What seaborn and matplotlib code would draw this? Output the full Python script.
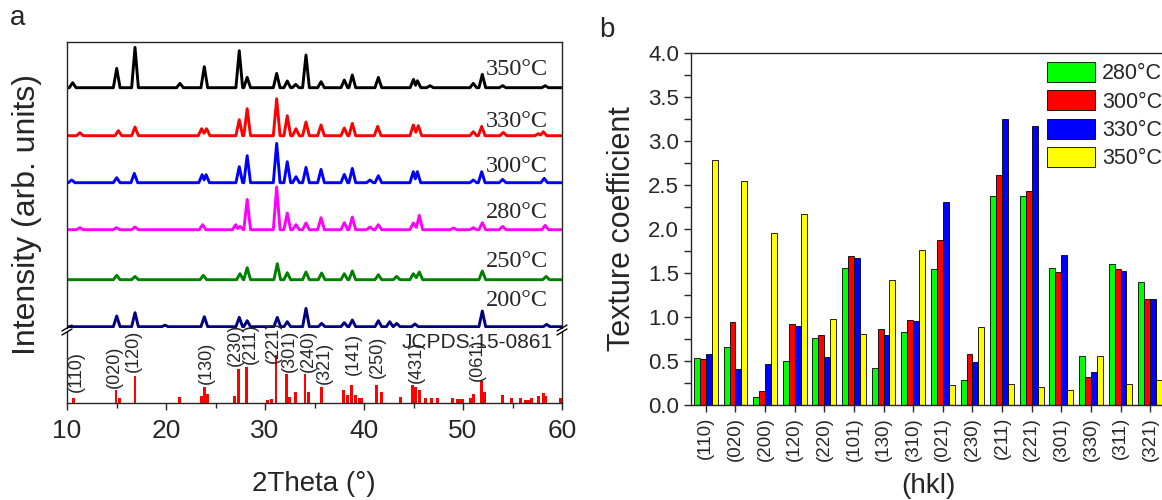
import numpy as np
import pandas as pd
import matplotlib
matplotlib.use("Agg")
import matplotlib.pyplot as plt
from matplotlib.lines import Line2D
from matplotlib.ticker import MultipleLocator
import seaborn as sns

# ---------------- data: panel a (XRD) ----------------
samples = ["200°C", "250°C", "280°C", "300°C", "330°C", "350°C"]
trace_colors = ["#000080", "#008000", "#FF00FF", "#0000FF", "#FF0000", "#000000"]

pos_200 = [15.02, 16.87, 19.9, 23.87, 27.4, 28.2, 31.24, 32.25, 34.14, 35.72, 38.01, 38.82, 41.45, 42.6, 43.3, 45.15, 51.95, 58.45]
int_200 = [10.7, 14, 1.5, 10, 9.3, 6, 9.3, 5, 18.3, 3.3, 4, 6.7, 6, 5, 3.3, 2.7, 15.7, 2.3]

pos_250 = [15.02, 16.87, 23.77, 27.47, 28.2, 31.24, 32.25, 34.14, 35.72, 38.01, 38.82, 41.45, 43.3, 44.98, 45.59, 51.95, 58.4]
int_250 = [4.3, 3.3, 4.3, 6, 12, 16, 7, 7.7, 6.7, 6, 8.7, 5, 3.3, 6, 7.7, 8.7, 3.3]

pos_280 = [11.3, 15.0, 16.87, 23.7, 27.04, 27.47, 28.2, 31.18, 32.25, 33.13, 34.14, 35.66, 38.01, 38.82, 40.6, 41.45, 44.98, 45.59, 49.03, 51.04, 51.95, 54.0, 58.3]
int_280 = [2, 2, 2.7, 5, 5, 3.3, 30.3, 42.7, 16.7, 5, 6.7, 12, 7, 12.7, 2.7, 5, 6.7, 14.3, 1.7, 2, 7, 3.3, 4.3]

pos_300 = [10.47, 15.02, 16.8, 23.65, 24.05, 27.4, 28.2, 31.18, 32.25, 33.13, 34.14, 35.66, 38.01, 38.82, 40.6, 41.45, 44.98, 45.39, 51.04, 51.89, 54.0, 58.2]
int_300 = [2.7, 5, 9.3, 8, 8, 16, 27, 39.3, 21, 6, 15.3, 13.3, 8.3, 14.3, 2.7, 7, 11, 11, 2.7, 11, 3.3, 4.3]

pos_330 = [11.3, 15.19, 16.87, 23.6, 24.1, 27.4, 28.2, 31.18, 32.25, 33.13, 34.14, 35.66, 38.01, 38.82, 41.38, 44.98, 45.49, 51.04, 51.89, 54.07, 57.6, 58.11]
int_330 = [3, 5, 8.7, 7, 7, 16, 27, 37, 20, 7, 13.7, 10.7, 7.7, 12.3, 9.3, 10.7, 10, 4, 9.3, 3.3, 2, 4]

pos_350 = [10.57, 15.02, 16.87, 21.41, 23.87, 27.4, 28.2, 31.18, 32.25, 33.1, 34.14, 35.66, 38.01, 38.82, 41.45, 45.0, 45.4, 46.67, 51.04, 51.95, 54.0, 58.3]
int_350 = [5, 19.3, 40.3, 4.3, 21, 37, 10.3, 14.3, 6.7, 3.3, 32.7, 6, 7.7, 12.7, 10.3, 8.3, 7, 2, 4.3, 13.3, 2, 2]

trace_pos = [pos_200, pos_250, pos_280, pos_300, pos_330, pos_350]
trace_int = [int_200, int_250, int_280, int_300, int_330, int_350]
trace_offset = [0, 47, 97, 144, 191, 239]
label_y = [20.7, 60, 108.7, 155, 200, 251.7]

# JCPDS 15-0861 reference sticks (relative intensity, %)
ref_pos = [10.64, 14.95, 15.28, 16.87, 21.41, 23.6, 23.87, 24.2, 26.94, 27.34, 28.18, 30.24, 30.7, 31.11,
           32.19, 32.46, 33.1, 34.04, 34.38, 35.69, 37.91, 38.32, 38.76, 39.16, 39.5, 39.77, 41.28, 41.72,
           43.7, 44.88, 45.25, 45.59, 46.23, 46.84, 47.44, 48.92, 49.43, 49.7, 49.97, 50.78, 51.04, 51.89,
           52.22, 53.97, 54.92, 55.83, 56.33, 56.6, 56.93, 57.6, 58.11, 58.35, 59.87]
ref_int = [12, 28, 10, 57, 14, 15, 33, 19, 15, 70, 75, 6, 8, 100,
           61, 14, 23, 61, 23, 33, 28, 17, 37, 17, 12, 12, 37, 23,
           14, 37, 33, 28, 12, 12, 12, 12, 8, 8, 8, 12, 19, 46,
           23, 17, 10, 10, 6, 6, 12, 15, 21, 15, 12]
ref_labels = ["(110)", "(020)", "(120)", "(130)", "(230)", "(211)", "(221)", "(301)", "(240)",
              "(321)", "(141)", "(250)", "(431)", "(061)"]
ref_label_x = [10.9, 14.78, 16.7, 24.1, 26.97, 28.55, 30.85, 32.5, 34.4, 36.0, 38.9, 41.35, 45.25, 51.5]
ref_label_y = [23.4, 31.7, 64.8, 40, 77.8, 81.4, 82.8, 65.4, 65.4, 39.3, 58.6, 51.8, 41.4, 46.2]

# ---------------- data: panel b (texture coefficient) ----------------
hkl = ["(110)", "(020)", "(200)", "(120)", "(220)", "(101)", "(130)", "(310)",
       "(021)", "(230)", "(211)", "(221)", "(301)", "(330)", "(311)", "(321)"]
tc_280 = [0.53, 0.66, 0.09, 0.50, 0.76, 1.56, 0.42, 0.83, 1.55, 0.28, 2.38, 2.37, 1.56, 0.56, 1.60, 1.40]
tc_300 = [0.52, 0.94, 0.16, 0.92, 0.80, 1.69, 0.86, 0.97, 1.88, 0.58, 2.61, 2.43, 1.51, 0.32, 1.54, 1.21]
tc_330 = [0.58, 0.41, 0.47, 0.90, 0.55, 1.67, 0.80, 0.95, 2.31, 0.49, 3.25, 3.17, 1.71, 0.37, 1.52, 1.20]
tc_350 = [2.78, 2.54, 1.95, 2.17, 0.98, 0.81, 1.42, 1.76, 0.23, 0.89, 0.24, 0.21, 0.17, 0.56, 0.24, 0.28]
tc_temps = ["280°C", "300°C", "330°C", "350°C"]
tc_colors = ["#00FF00", "#FF0000", "#0000FF", "#FFFF00"]

# ---------------- style ----------------
sns.set_style("ticks")
plt.rcParams["font.family"] = ["Liberation Sans", "DejaVu Sans"]
plt.rcParams["axes.linewidth"] = 1.0

W, H = 1162, 500
fig = plt.figure(figsize=(W / 100, H / 100), dpi=100)


def rect(l, t, r, b):
    return [l / W, 1 - b / H, (r - l) / W, (b - t) / H]


# ---------------- panel a ----------------
ax_top = fig.add_axes(rect(67, 41.7, 562, 328))
ax_bot = fig.add_axes(rect(67, 332, 562, 403.3))

HW = 0.34  # half-width of a peak foot (deg)


def polyline(pos, inten, base):
    xs, ys = [10.0], [base]
    n = len(pos)
    for i, (p, h) in enumerate(zip(pos, inten)):
        if not (i > 0 and p - pos[i - 1] < 2 * HW):
            xs.append(p - HW); ys.append(base)
        xs.append(p); ys.append(base + h)
        if i < n - 1 and pos[i + 1] - p < 2 * HW:
            xs.append((p + pos[i + 1]) / 2); ys.append(base + 0.35 * min(h, inten[i + 1]))
        else:
            xs.append(p + HW); ys.append(base)
    xs.append(60.0); ys.append(base)
    return xs, ys


for name, col, pos, inten, off, ly in zip(samples, trace_colors, trace_pos, trace_int, trace_offset, label_y):
    xs, ys = polyline(pos, inten, off)
    sns.lineplot(x=xs, y=ys, sort=False, estimator=None, color=col, lw=2.1, ax=ax_top)
    ax_top.text(58.6, ly, name, ha="right", va="baseline", fontsize=17.5,
                family=["Liberation Serif", "DejaVu Serif"])

ax_top.set_xlim(10, 60)
ax_top.set_ylim(-1.3, 285)
ax_top.set_xticks([]); ax_top.set_yticks([])
ax_top.spines["bottom"].set_visible(False)
ax_top.set_xlabel(""); ax_top.set_ylabel("")

ax_bot.bar(ref_pos, ref_int, width=0.3, color="#FF0000", linewidth=0)
for lab, lx, lyv in zip(ref_labels, ref_label_x, ref_label_y):
    ax_bot.text(lx, lyv, lab, rotation=90, ha="center", va="bottom", fontsize=13)
ax_bot.text(59.05, 125, "JCPDS:15-0861", ha="right", va="center", fontsize=15)
ax_bot.set_xlim(10, 60)
ax_bot.set_ylim(0, 147.6)
ax_bot.set_yticks([])
ax_bot.spines["top"].set_visible(False)
ax_bot.xaxis.set_major_locator(MultipleLocator(10))
ax_bot.xaxis.set_minor_locator(MultipleLocator(5))
ax_bot.tick_params(axis="x", which="major", direction="out", length=5, width=1, labelsize=19, pad=6)
ax_bot.tick_params(axis="x", which="minor", direction="out", length=3.5, width=1)

# axis-break marks
for yb in (328, 332):
    for xb in (67, 562):
        fig.add_artist(Line2D([(xb - 5) / W, (xb + 5) / W], [1 - (yb + 3) / H, 1 - (yb - 3) / H],
                              transform=fig.transFigure, color="black", lw=1.0))

fig.text(27 / W, 1 - 215 / H, "Intensity (arb. units)", rotation=90, ha="center", va="center", fontsize=23)
fig.text(314 / W, 1 - 484 / H, "2Theta (°)", ha="center", va="center", fontsize=20)
fig.text(18 / W, 1 - 18 / H, "a", ha="center", va="center", fontsize=20)

# ---------------- panel b ----------------
axb = fig.add_axes(rect(691, 53, 1165, 405))
df = pd.DataFrame({
    "hkl": hkl * 4,
    "tc": tc_280 + tc_300 + tc_330 + tc_350,
    "temp": [t for t in tc_temps for _ in hkl],
})
sns.barplot(data=df, x="hkl", y="tc", hue="temp", hue_order=tc_temps, palette=tc_colors,
            width=0.8, gap=0, edgecolor="black", linewidth=0.6, saturation=1, ax=axb, errorbar=None)
axb.set_ylim(0, 4.0)
axb.set_xlim(-0.5, len(hkl) - 0.5)
axb.yaxis.set_major_locator(MultipleLocator(0.5))
axb.yaxis.set_minor_locator(MultipleLocator(0.25))
axb.yaxis.set_major_formatter(matplotlib.ticker.FormatStrFormatter("%.1f"))
axb.tick_params(axis="y", which="major", direction="out", length=5, width=1, labelsize=16)
axb.tick_params(axis="y", which="minor", direction="out", length=5, width=1)
axb.tick_params(axis="x", direction="out", length=5, width=1, labelsize=13.5, rotation=90)
axb.set_xlabel(""); axb.set_ylabel("")
handles, labels = axb.get_legend_handles_labels()
axb.legend(handles, labels, loc="upper left", bbox_to_anchor=(1047 / W, 1 - 62 / H),
           bbox_transform=fig.transFigure, frameon=False, fontsize=15.5, borderpad=0,
           handlelength=2.25, handleheight=1.05, labelspacing=0.28, handletextpad=0.3, borderaxespad=0)

fig.text(622 / W, 1 - 229 / H, "Texture coefficient", rotation=90, ha="center", va="center", fontsize=22)
fig.text(928 / W, 1 - 486 / H, "(hkl)", ha="center", va="center", fontsize=20)
fig.text(607 / W, 1 - 30 / H, "b", ha="center", va="center", fontsize=20)

fig.savefig("out.png", dpi=100)
